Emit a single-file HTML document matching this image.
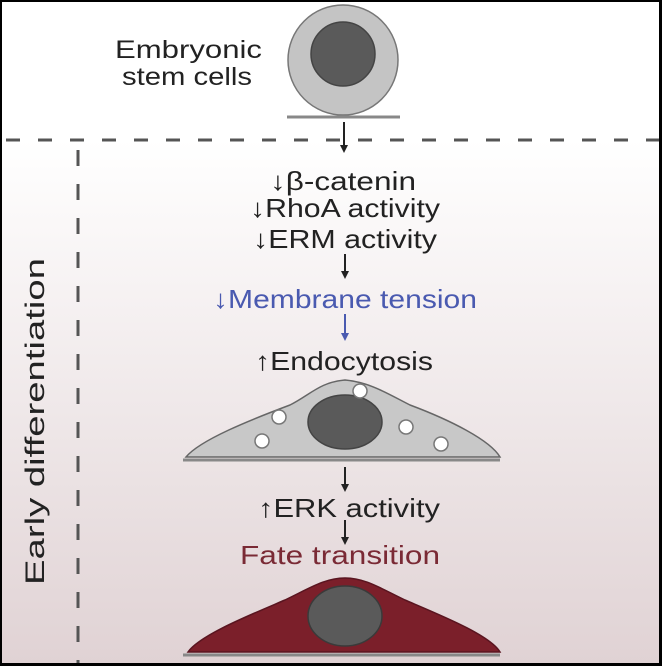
<!DOCTYPE html>
<html><head><style>
html,body{margin:0;padding:0;background:#fff}
svg{display:block}
text{font-family:"Liberation Sans",sans-serif}
</style></head><body>
<svg width="662" height="666" viewBox="0 0 662 666" xmlns="http://www.w3.org/2000/svg">
<defs>
<linearGradient id="bg" x1="0" y1="0" x2="0" y2="1">
<stop offset="0" stop-color="#ffffff"/>
<stop offset="1" stop-color="#e0d2d4"/>
</linearGradient>
</defs>
<rect x="0" y="0" width="662" height="666" fill="#fff"/>
<rect x="0" y="140" width="662" height="526" fill="url(#bg)"/>
<rect x="0" y="0" width="662" height="2" fill="#000"/>
<rect x="0" y="0" width="2" height="666" fill="#000"/>
<rect x="659" y="0" width="3" height="666" fill="#000"/>
<rect x="0" y="663" width="662" height="3" fill="#000"/>
<line x1="2" y1="140" x2="659" y2="140" stroke="#555" stroke-width="3" stroke-dasharray="14,18" stroke-dashoffset="-4"/>
<line x1="78" y1="140" x2="78" y2="663" stroke="#555" stroke-width="3" stroke-dasharray="16,18" stroke-dashoffset="-10"/>
<g font-size="25" fill="#222" lengthAdjust="spacingAndGlyphs">
<text x="115" y="58" textLength="147" lengthAdjust="spacingAndGlyphs">Embryonic</text>
<text x="122" y="85" textLength="130" lengthAdjust="spacingAndGlyphs">stem cells</text>
</g>
<circle cx="343" cy="60" r="55" fill="#c4c4c4" stroke="#777" stroke-width="1.5"/>
<circle cx="343" cy="54" r="32" fill="#5a5a5a" stroke="#444" stroke-width="1.5"/>
<line x1="287" y1="117" x2="400" y2="117" stroke="#888" stroke-width="3"/>
<g stroke="#222" stroke-width="2" fill="#222">
<line x1="344" y1="122" x2="344" y2="146"/><polygon points="340,145 348,145 344,153" stroke="none"/>
<line x1="345" y1="254" x2="345" y2="272"/><polygon points="341,271 349,271 345,279" stroke="none"/>
<line x1="345" y1="467" x2="345" y2="485"/><polygon points="341,484 349,484 345,492" stroke="none"/>
<line x1="345" y1="520" x2="345" y2="538"/><polygon points="341,537 349,537 345,545" stroke="none"/>
</g>
<line x1="345" y1="314" x2="345" y2="334" stroke="#4a5ab0" stroke-width="2"/>
<polygon points="341,333 349,333 345,341" fill="#4a5ab0"/>
<g font-size="26" fill="#222">
<text x="270" y="190" textLength="146" lengthAdjust="spacingAndGlyphs">↓β-catenin</text>
<text x="250" y="217" textLength="190" lengthAdjust="spacingAndGlyphs">↓RhoA activity</text>
<text x="253" y="248" textLength="184" lengthAdjust="spacingAndGlyphs">↓ERM activity</text>
<text x="213" y="308" textLength="264" lengthAdjust="spacingAndGlyphs" fill="#4a5ab0">↓Membrane tension</text>
<text x="255" y="370" textLength="178" lengthAdjust="spacingAndGlyphs">↑Endocytosis</text>
<text x="258" y="517" textLength="182" lengthAdjust="spacingAndGlyphs">↑ERK activity</text>
<text x="240" y="564" textLength="200" lengthAdjust="spacingAndGlyphs" fill="#7a2a35">Fate transition</text>
</g>
<path d="M186,457 C200,440 250,420 290,405 C310,395 320,382 345,380 C370,382 390,395 410,405 C450,420 490,440 500,457 Z" fill="#c8c8c8" stroke="#666" stroke-width="1.5"/>
<line x1="183" y1="460" x2="500" y2="460" stroke="#888" stroke-width="3"/>
<ellipse cx="345" cy="422" rx="37" ry="27" fill="#5a5a5a" stroke="#444" stroke-width="1.5"/>
<g fill="#fff" stroke="#777" stroke-width="1.5">
<circle cx="360" cy="391" r="7"/>
<circle cx="279" cy="417" r="7"/>
<circle cx="262" cy="441" r="7"/>
<circle cx="406" cy="427" r="7"/>
<circle cx="441" cy="444" r="7"/>
</g>
<path d="M188,652 C200,635 250,615 285,600 C310,588 325,578 345,578 C365,578 380,588 405,600 C440,615 490,635 500,652 Z" fill="#7b1f2a" stroke="#5a1520" stroke-width="1.5"/>
<line x1="183" y1="655" x2="500" y2="655" stroke="#888" stroke-width="3"/>
<ellipse cx="345" cy="616" rx="37" ry="30" fill="#5a5a5a" stroke="#3a3a3a" stroke-width="1.5"/>
<text transform="translate(44,585) rotate(-90)" font-size="27" textLength="327" lengthAdjust="spacingAndGlyphs" fill="#222">Early differentiation</text>
</svg>
</body></html>
